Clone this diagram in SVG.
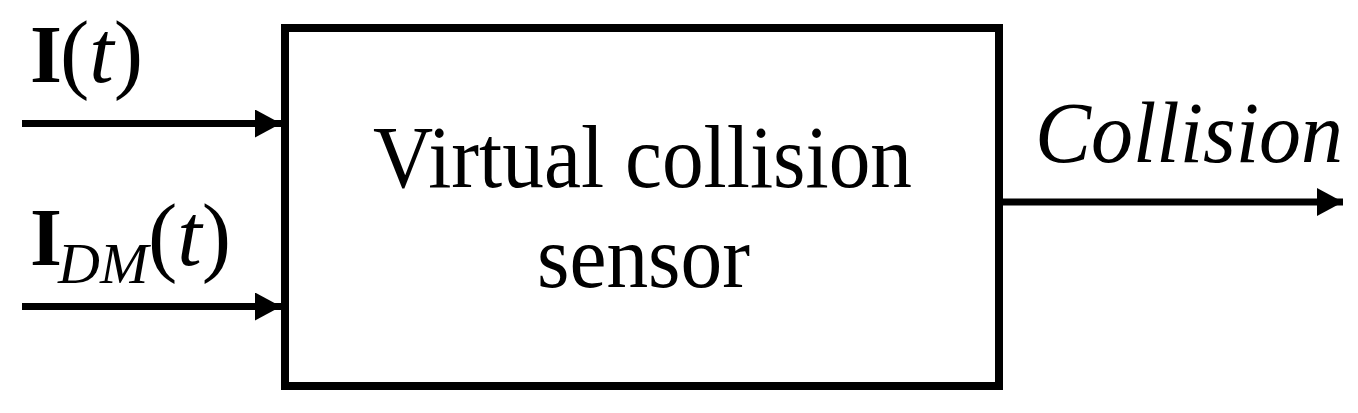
<svg xmlns="http://www.w3.org/2000/svg" width="1358" height="413" viewBox="0 0 1358 413">
<style>
.t{font-family:"Liberation Serif","Times New Roman",serif;fill:#000}
.ln{stroke:#000;stroke-width:7;fill:none}
</style>
<defs>
<marker id="ah" markerUnits="userSpaceOnUse" markerWidth="27" markerHeight="28" refX="26" refY="14" orient="auto">
<path d="M0,0 L26,14 L0,28 z" fill="#000"/>
</marker>
</defs>
<rect width="1358" height="413" fill="#fff"/>
<g id="sensor">
<rect x="285" y="28" width="714" height="358" fill="none" stroke="#000" stroke-width="8"/>
<text class="t" x="642.5" y="187" font-size="88" text-anchor="middle" textLength="539" lengthAdjust="spacingAndGlyphs">Virtual collision</text>
<text class="t" x="643.5" y="287" font-size="88" text-anchor="middle" textLength="213" lengthAdjust="spacingAndGlyphs">sensor</text>
</g>
<g id="label-I">
<text class="t" x="30" y="82" font-size="88"><tspan font-weight="bold" font-size="82">I</tspan><tspan x="60">(</tspan><tspan font-style="italic">t</tspan>)</text>
</g>
<g id="label-IDM">
<text class="t" x="30" y="265" font-size="88"><tspan font-weight="bold" font-size="82">I</tspan><tspan font-style="italic" font-size="58" x="58" y="283">DM</tspan><tspan x="148" y="265">(</tspan><tspan font-style="italic">t</tspan>)</text>
</g>
<g id="label-collision">
<text class="t" x="1035" y="162" font-size="86" font-style="italic" textLength="308" lengthAdjust="spacingAndGlyphs">Collision</text>
</g>
<g id="connectors">
<line class="ln" x1="22" y1="123.5" x2="281" y2="123.5" marker-end="url(#ah)"/>
<line class="ln" x1="22" y1="306.5" x2="281" y2="306.5" marker-end="url(#ah)"/>
<line class="ln" x1="1003" y1="202" x2="1343" y2="202" marker-end="url(#ah)"/>
</g>
</svg>
